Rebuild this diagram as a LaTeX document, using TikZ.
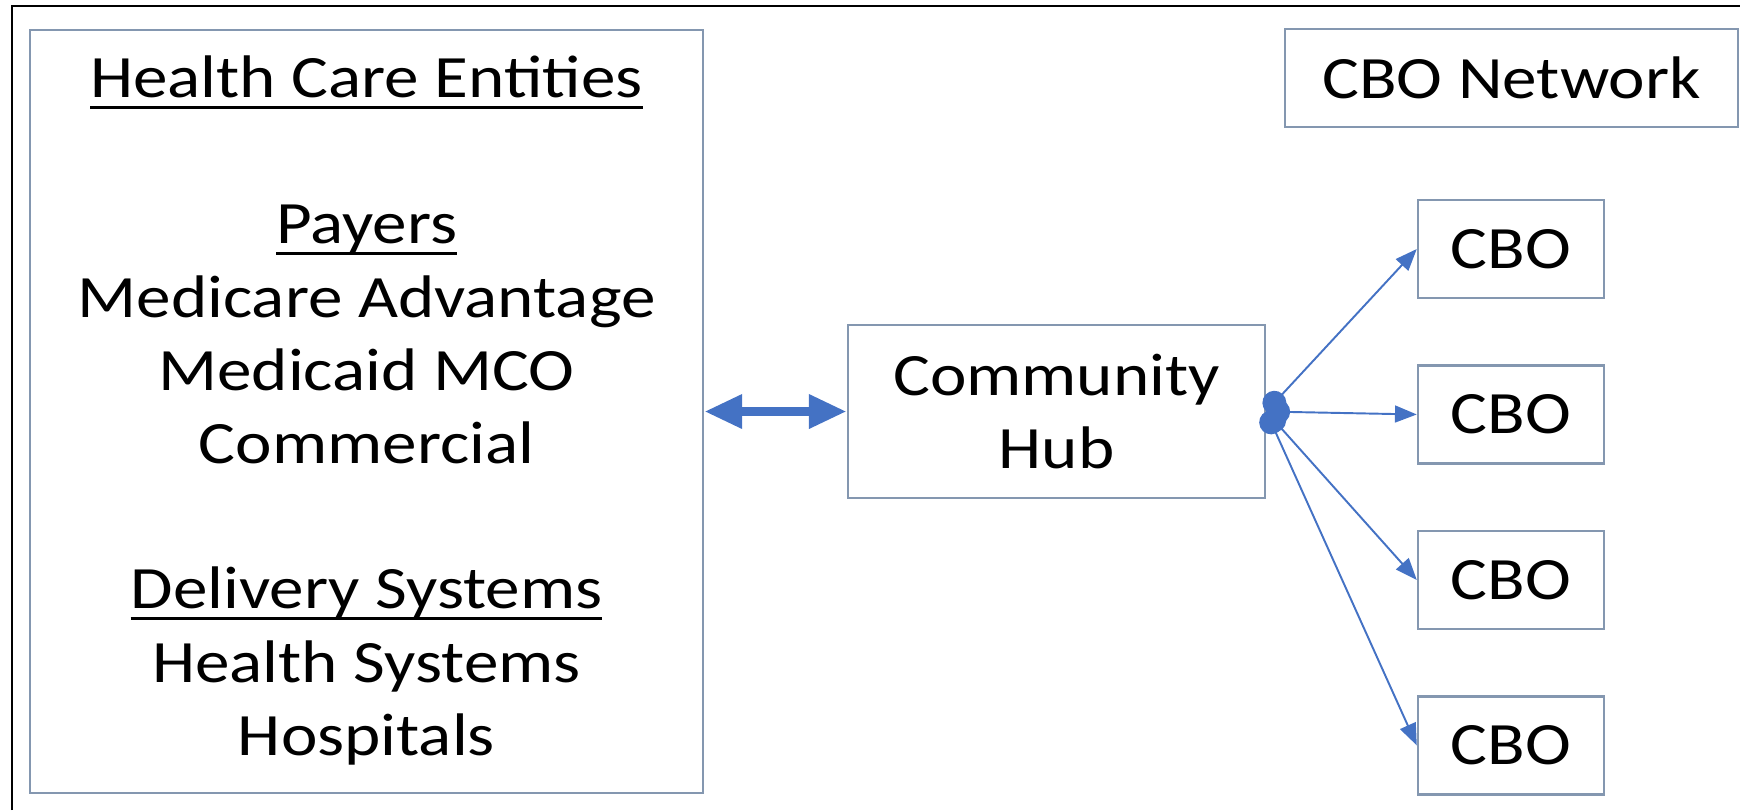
\documentclass[tikz,border=0pt]{standalone}
\usepackage{fontspec}
\setmainfont{Carlito}[FakeStretch=1.15]
\usepackage{tikz}
\usetikzlibrary{positioning,arrows.meta}

\definecolor{boxline}{HTML}{8497B0}
\definecolor{arrowblue}{HTML}{4472C4}
\newcommand\lblfont{\fontsize{17.1}{20.9}\selectfont}
\newcommand\uln[1]{\setbox0\hbox{#1}\rlap{\rule[-3.3pt]{\wd0}{0.85pt}}\box0}

\tikzset{
  box/.style={draw=boxline, line width=0.7pt, inner sep=0pt, align=center, font=\lblfont},
  lbl/.style={font=\lblfont, inner sep=0pt, anchor=base},
  cbo/.style={box, minimum width=18.6mm, minimum height=9.8mm},
  link/.style={draw=arrowblue, line width=2.8pt,
    {Triangle[length=10.8pt,width=9.1pt]}-{Triangle[length=10.8pt,width=9.1pt]}},
  feed/.style={draw=arrowblue, line width=0.55pt,
    {Circle[length=6.8pt]}-{Triangle[length=6.2pt,width=4.8pt]}},
}

\begin{document}
\begin{tikzpicture}[x=0.1mm,y=-0.1mm]
\useasboundingbox (0,0) rectangle (1740,810);
\draw[line width=0.85pt] (12,810) -- (12,6) -- (1740,6);
%----------------------------------
\node[box, minimum width=67.3mm, minimum height=76.3mm] (hce) at (366.5,411.5) {};
\node[lbl] (t0) at (366.5,97) {\uln{Health Care Entities}};
\node[lbl] (t1) at (366.5,243) {\uln{Payers}};
\node[lbl] (t2) at (366.5,317) {Medicare Advantage};
\node[lbl] (t3) at (366.5,390) {Medicaid MCO};
\node[lbl] (t4) at (366.5,463) {Commercial};
\node[lbl] (t5) at (366.5,608) {\uln{Delivery Systems}};
\node[lbl] (t6) at (366.5,682) {Health Systems};
\node[lbl] (t7) at (366.5,755) {Hospitals};
%----------------------------------
\node[box, minimum width=41.7mm, minimum height=17.3mm] (hub) at (1056.5,411.5) {Community\\Hub};
\node[box, minimum width=45.3mm, minimum height=9.8mm] (net) at (1511.5,78) {CBO Network};
%----------------------------------
\node[cbo] (c1) at (1511,249) {CBO};
\node[cbo, below=6.5mm of c1] (c2) {CBO};
\node[cbo, below=6.5mm of c2] (c3) {CBO};
\node[cbo, below=6.5mm of c3] (c4) {CBO};
%----------------------------------
\draw[link] (hce) -- (hub);
\draw[feed] (hub.east) -- (c1.west);
\draw[feed] (hub.east) -- (c2.west);
\draw[feed] (hub.east) -- (c3.west);
\draw[feed] (hub.east) -- (c4.west);
\end{tikzpicture}
\end{document}
